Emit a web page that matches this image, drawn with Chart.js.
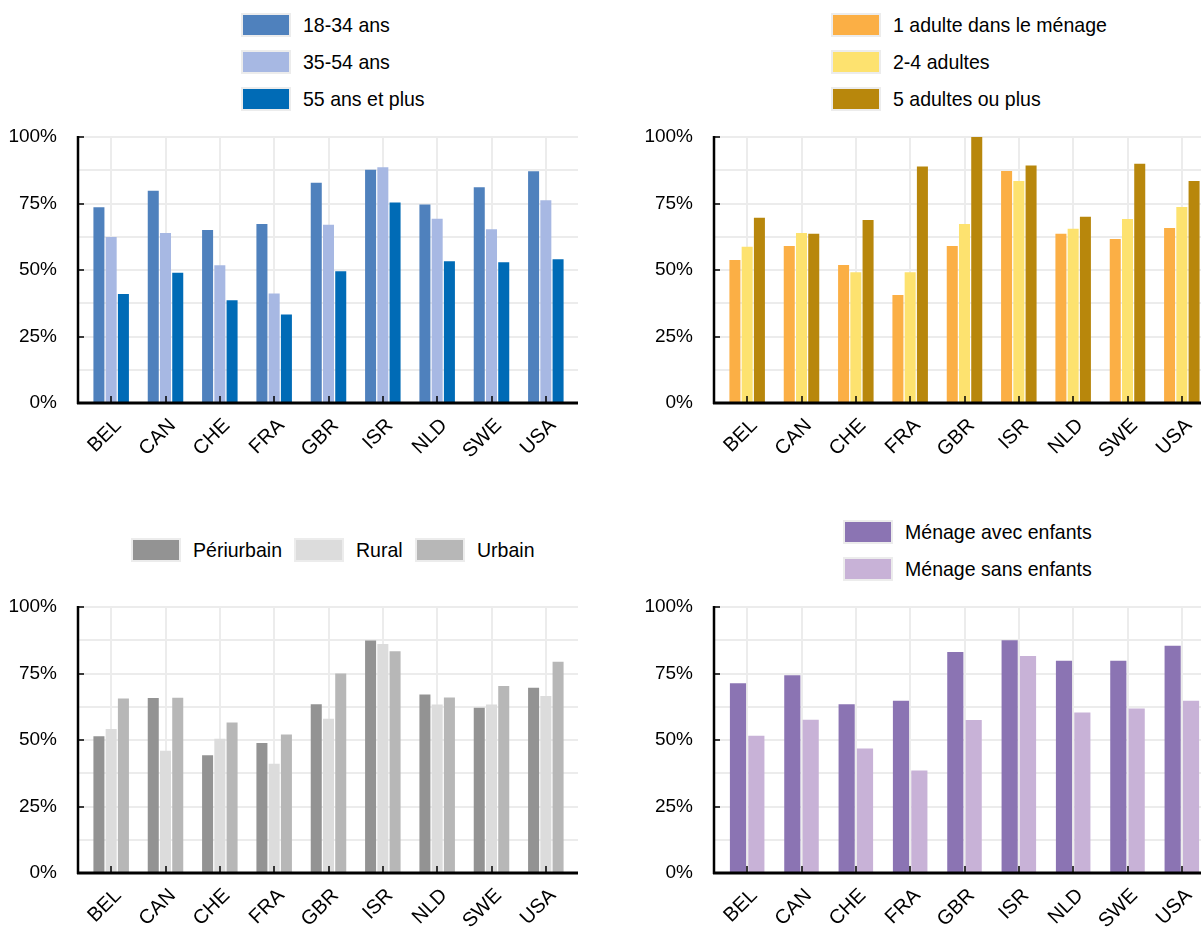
<!DOCTYPE html>
<html>
<head>
<meta charset="utf-8">
<script src="https://cdn.jsdelivr.net/npm/chart.js@4.4.0/dist/chart.umd.min.js"></script>
<style>
  html, body { margin: 0; padding: 0; background: #fff; overflow: hidden; width: 1201px; height: 932px; }
  body { position: relative; font-family: 'Liberation Sans Narrow', 'Liberation Sans', Arial, sans-serif; }
  canvas { position: absolute; }
  .legend { position: absolute; font-size: 21px; color: #000; }
  .item { display: flex; align-items: center; height: 37px; white-space: nowrap; }
  .legend.row .item { float: left; }
  .box { width: 46px; height: 20px; border: 2px solid #ececec; margin-right: 12px; box-sizing: content-box; flex: none; }
  .txt { display: inline-block; transform-origin: 0 50%; }
</style>
</head>
<body>
<canvas id="age" width="600" height="360" style="left:0px;top:120px"></canvas>
<canvas id="menage" width="600" height="360" style="left:636px;top:120px"></canvas>
<canvas id="zone" width="600" height="342" style="left:0px;top:590px"></canvas>
<canvas id="enfants" width="600" height="342" style="left:636px;top:590px"></canvas>

<div class="legend" id="legAge" style="left:241px;top:6px"></div>
<div class="legend" id="legMenage" style="left:831px;top:6px"></div>
<div class="legend row" id="legZone" style="left:131px;top:531px"></div>
<div class="legend" id="legEnfants" style="left:843px;top:513px"></div>

<script>
// données (%)
const countries = ["BEL", "CAN", "CHE", "FRA", "GBR", "ISR", "NLD", "SWE", "USA"];
const yTicks = ["0%", "25%", "50%", "75%", "100%"];

const age18_34 = [73.6, 79.8, 65.0, 67.3, 82.8, 87.7, 74.6, 81.1, 87.1];
const age35_54 = [62.4, 63.9, 51.8, 41.2, 67.0, 88.6, 69.3, 65.3, 76.2];
const age55plus = [41.0, 49.0, 38.6, 33.3, 49.5, 75.4, 53.3, 52.9, 54.0];

const adulte1 = [53.8, 59.0, 51.9, 40.6, 59.0, 87.2, 63.6, 61.7, 65.8];
const adultes2_4 = [58.7, 63.9, 49.2, 49.2, 67.3, 83.5, 65.5, 69.2, 73.7];
const adultes5plus = [69.6, 63.6, 68.8, 88.9, 100, 89.3, 70.0, 89.9, 83.5];

const periurbain = [51.4, 65.8, 44.3, 48.9, 63.4, 87.4, 67.1, 62.1, 69.6];
const rural = [54.1, 46.0, 50.5, 41.1, 58.0, 86.1, 63.3, 63.3, 66.5];
const urbain = [65.6, 65.9, 56.6, 52.1, 75.0, 83.4, 66.0, 70.3, 79.4];

const avecEnfants = [71.3, 74.3, 63.4, 64.8, 83.1, 87.5, 79.8, 79.8, 85.4];
const sansEnfants = [51.6, 57.6, 46.8, 38.5, 57.5, 81.6, 60.3, 61.8, 64.8];

const FONT = "'Liberation Sans Narrow', 'Liberation Sans', Arial, sans-serif";
Chart.defaults.font.family = FONT;
Chart.defaults.color = "#000";

// grille horizontale + axes + petites graduations vers l'intérieur
const axisLines = {
  id: "axisLines",
  beforeDatasetsDraw: function (chart) {
    var ctx = chart.ctx, a = chart.chartArea, y = chart.scales.y;
    ctx.save();
    ctx.strokeStyle = "#ececec";
    ctx.lineWidth = 2;
    y.ticks.forEach(function (t) {
      var py = Math.round(y.getPixelForValue(t.value));
      ctx.beginPath();
      ctx.moveTo(a.left - 6, py);
      ctx.lineTo(a.right + 5, py);
      ctx.stroke();
    });
    ctx.restore();
  },
  afterDatasetsDraw: function (chart) {
    var ctx = chart.ctx, a = chart.chartArea, y = chart.scales.y, x = chart.scales.x;
    var left = a.left - 6;
    ctx.save();
    ctx.strokeStyle = "#000";
    ctx.lineWidth = 1.5;
    y.ticks.forEach(function (t) {
      if (t.value % 25 !== 0) return;
      var py = Math.round(y.getPixelForValue(t.value));
      ctx.beginPath();
      ctx.moveTo(left, py);
      ctx.lineTo(left + 6, py);
      ctx.stroke();
    });
    countries.forEach(function (c, i) {
      var px = Math.round(x.getPixelForValue(i));
      ctx.beginPath();
      ctx.moveTo(px, a.bottom);
      ctx.lineTo(px, a.bottom - 7);
      ctx.stroke();
    });
    ctx.lineWidth = 2.5;
    ctx.beginPath();
    ctx.moveTo(left, a.top - 1);
    ctx.lineTo(left, a.bottom + 1);
    ctx.stroke();
    ctx.lineWidth = 3;
    ctx.beginPath();
    ctx.moveTo(left - 1, a.bottom);
    ctx.lineTo(a.right + 5, a.bottom);
    ctx.stroke();
    ctx.restore();
  }
};

function makeChart(id, series, names, colors, xHeight, barPct) {
  var datasets = series.map(function (s, i) {
    return {
      label: names[i],
      data: s,
      backgroundColor: colors[i],
      borderWidth: 0,
      categoryPercentage: 0.676,
      barPercentage: barPct
    };
  });
  return new Chart(document.getElementById(id), {
    type: "bar",
    data: { labels: countries, datasets: datasets },
    plugins: [axisLines],
    options: {
      responsive: false,
      animation: false,
      events: [],
      layout: { padding: { top: 17, right: 27, left: 0, bottom: 0 } },
      plugins: { legend: { display: false }, tooltip: { enabled: false } },
      scales: {
        x: {
          grid: { display: true, offset: false, color: "#ececec", lineWidth: 2, drawTicks: false },
          border: { display: false },
          ticks: {
            autoSkip: false,
            minRotation: 45,
            maxRotation: 45,
            padding: 11,
            labelOffset: 7,
            font: { size: 20 }
          },
          afterFit: function (s) {
            s.height = xHeight;
            s.paddingLeft = 0;
            s.paddingRight = 0;
          }
        },
        y: {
          min: 0,
          max: 100,
          grid: { display: false, drawTicks: false },
          border: { display: false },
          ticks: {
            stepSize: 12.5,
            padding: 27,
            font: { size: 19 },
            callback: function (v) {
              return v % 25 === 0 ? yTicks[v / 25] : "";
            }
          },
          afterFit: function (s) {
            s.width = 84;
            s.paddingTop = 0;
            s.paddingBottom = 0;
          }
        }
      }
    }
  });
}

function makeLegend(id, names, colors) {
  var el = document.getElementById(id);
  names.forEach(function (n, i) {
    var item = document.createElement("div");
    item.className = "item";
    var box = document.createElement("span");
    box.className = "box";
    box.style.background = colors[i];
    var txt = document.createElement("span");
    txt.className = "txt";
    txt.textContent = n;
    item.appendChild(box);
    item.appendChild(txt);
    if (el.classList.contains("row") && i > 0) item.style.marginLeft = "12px";
    el.appendChild(item);
    // police plus étroite comme dans l'original
    var w = txt.getBoundingClientRect().width;
    txt.style.transform = "scaleX(0.93)";
    txt.style.width = (w * 0.93) + "px";
  });
}

var ageNames = ["18-34 ans", "35-54 ans", "55 ans et plus"];
var ageColors = ["#4f81bd", "#a7b8e3", "#006bb6"];
var menageNames = ["1 adulte dans le ménage", "2-4 adultes", "5 adultes ou plus"];
var menageColors = ["#fbaf45", "#fde26f", "#b8870c"];
var zoneNames = ["Périurbain", "Rural", "Urbain"];
var zoneColors = ["#939393", "#dcdcdc", "#b7b7b7"];
var enfantsNames = ["Ménage avec enfants", "Ménage sans enfants"];
var enfantsColors = ["#8b74b3", "#c8b2d7"];

makeChart("age", [age18_34, age35_54, age55plus], ageNames, ageColors, 77, 0.9);
makeChart("menage", [adulte1, adultes2_4, adultes5plus], menageNames, menageColors, 77, 0.9);
makeChart("zone", [periurbain, rural, urbain], zoneNames, zoneColors, 59, 0.9);
makeChart("enfants", [avecEnfants, sansEnfants], enfantsNames, enfantsColors, 59, 0.88);

makeLegend("legAge", ageNames, ageColors);
makeLegend("legMenage", menageNames, menageColors);
makeLegend("legZone", zoneNames, zoneColors);
makeLegend("legEnfants", enfantsNames, enfantsColors);
</script>
</body>
</html>
